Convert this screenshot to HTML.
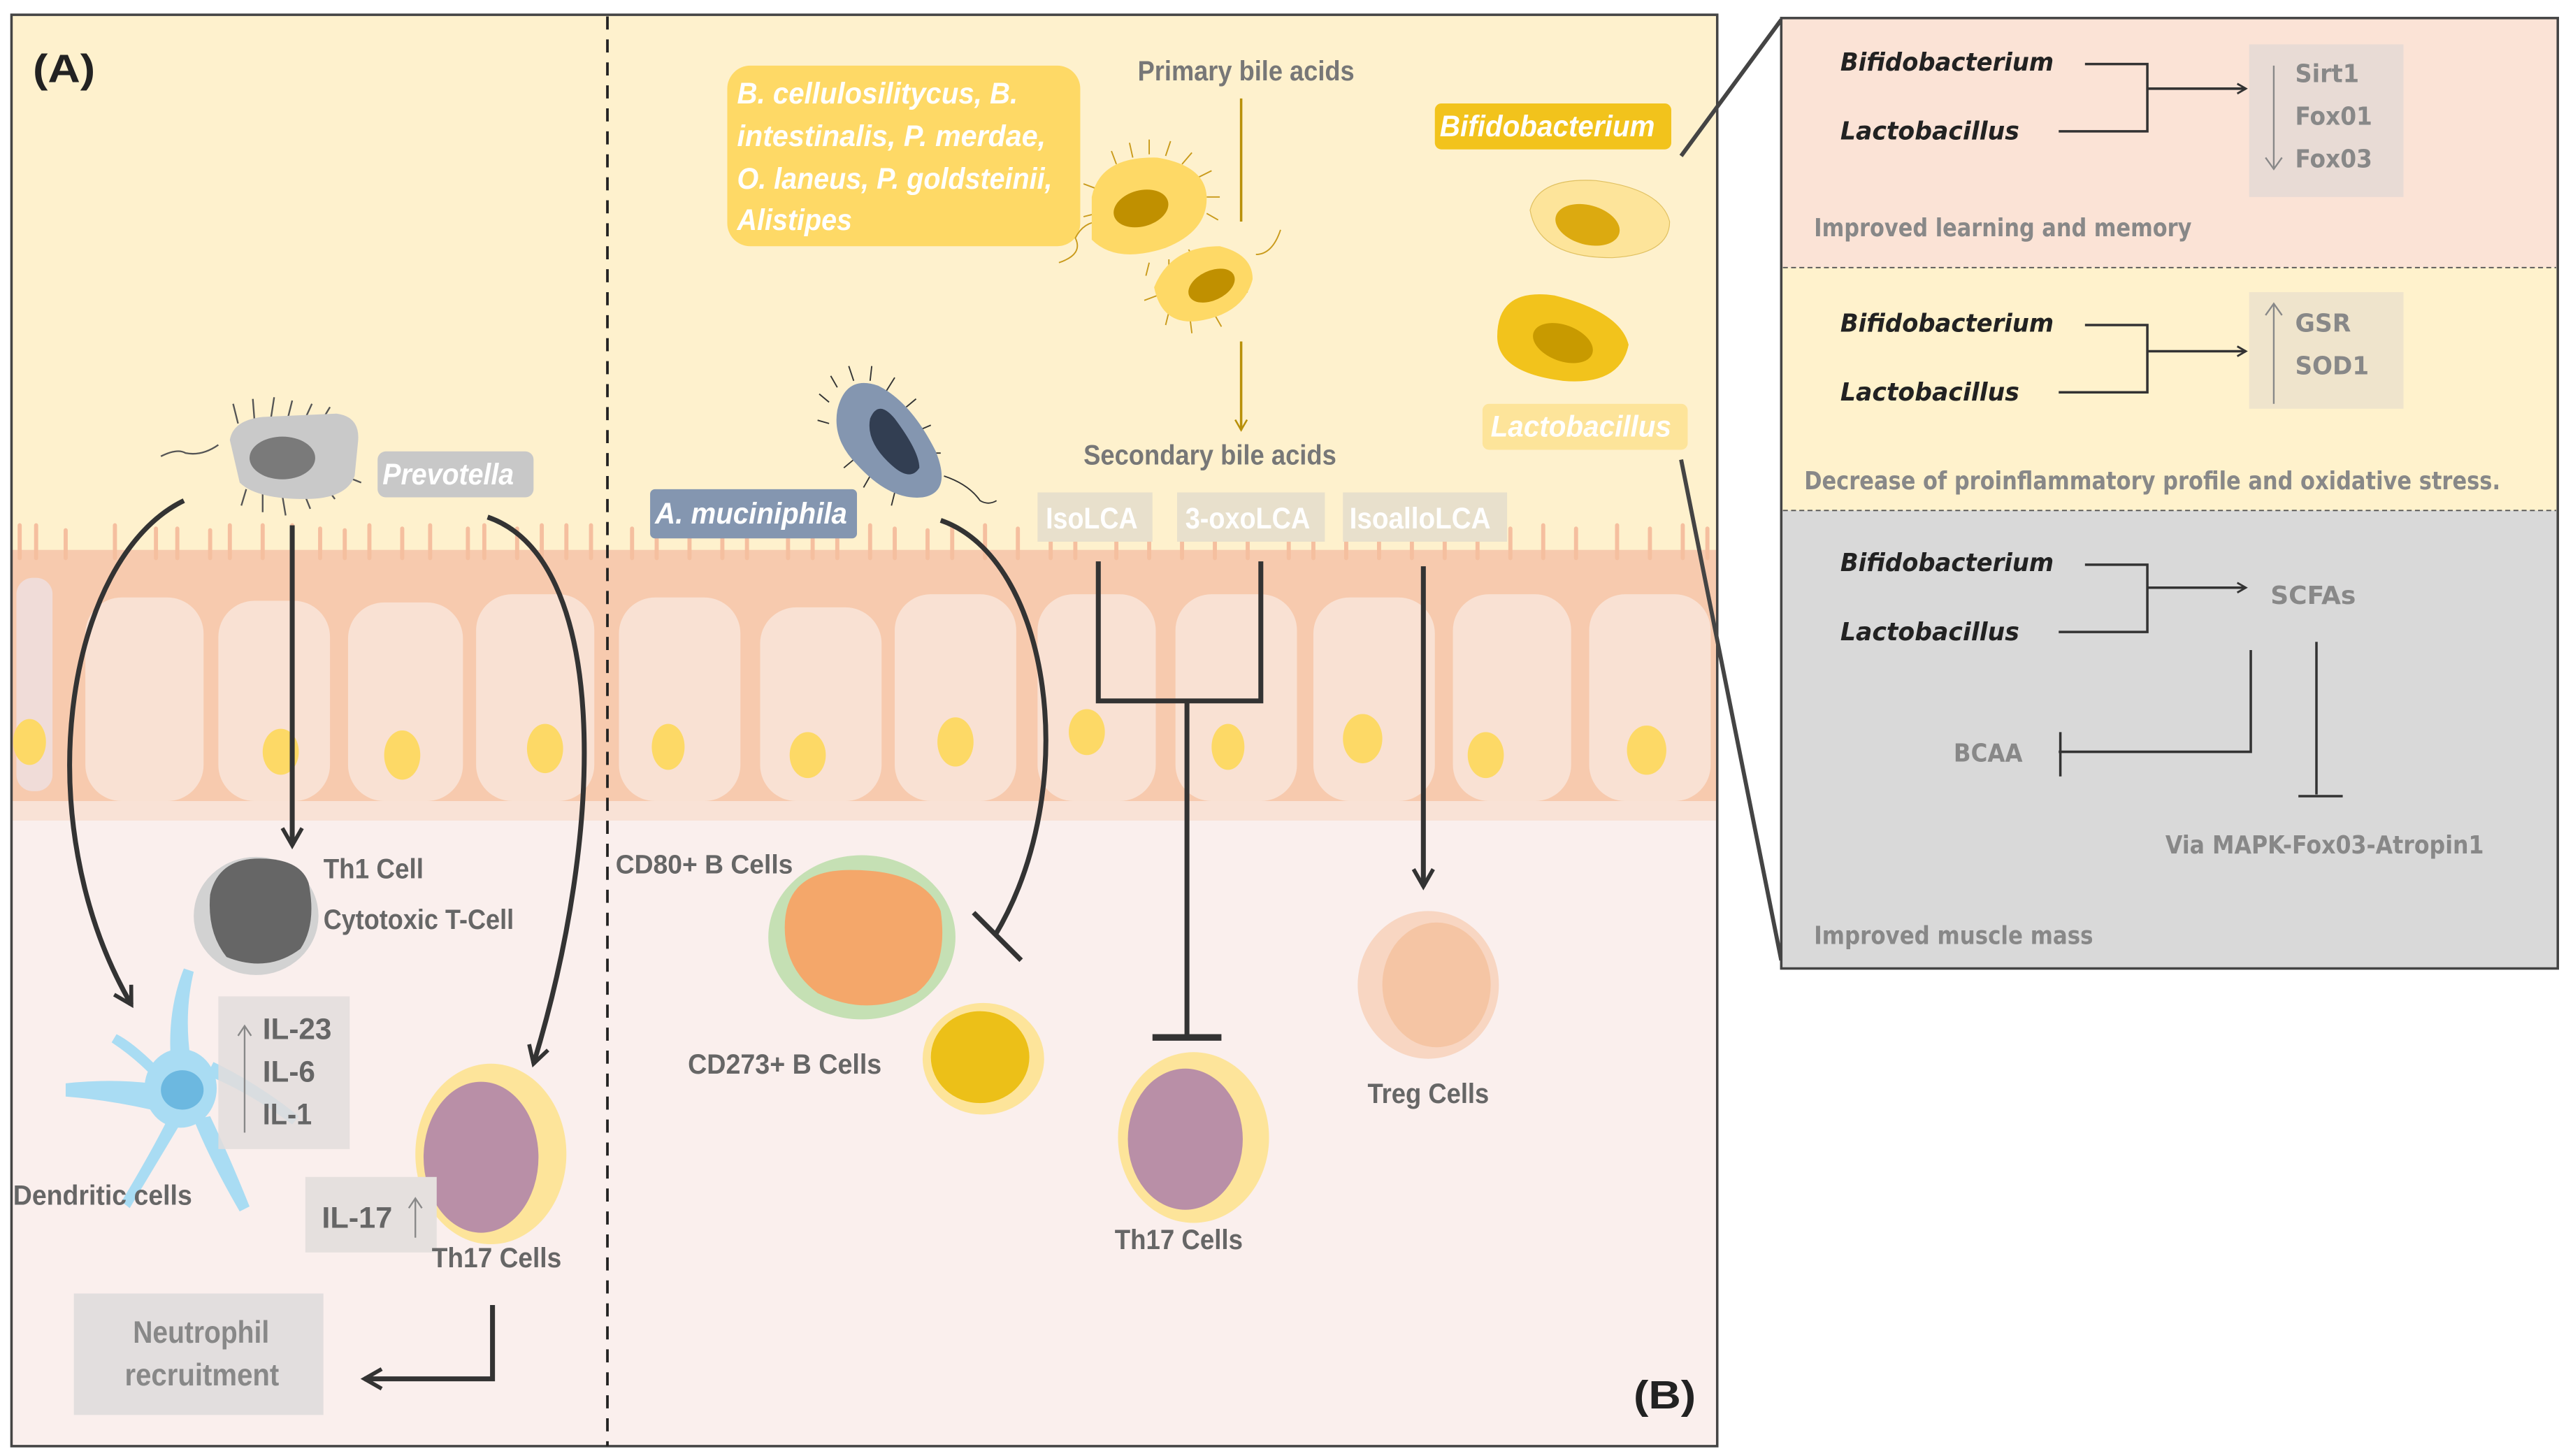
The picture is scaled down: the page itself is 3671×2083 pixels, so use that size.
<!DOCTYPE html>
<html><head><meta charset="utf-8"><style>
html,body{margin:0;padding:0;background:#fff}
svg{display:block}
.n{font-family:"Liberation Sans Narrow","Liberation Sans",sans-serif;font-weight:bold}
.w{font-family:"DejaVu Sans","Liberation Sans",sans-serif;font-weight:bold}
</style></head><body>
<svg width="3671" height="2083" viewBox="0 0 1563 887" preserveAspectRatio="none" xmlns="http://www.w3.org/2000/svg">
<defs>
<marker id="ah" viewBox="0 0 10 10" refX="8" refY="5" markerWidth="5" markerHeight="5" orient="auto"><path d="M1,1 L8,5 L1,9" fill="none" stroke="#333" stroke-width="1.6"/></marker>
<marker id="ag" viewBox="0 0 10 10" refX="8" refY="5" markerWidth="6" markerHeight="6" orient="auto"><path d="M1,1 L8,5 L1,9" fill="none" stroke="#b8900a" stroke-width="1.2"/></marker>
</defs>
<rect x="0" y="0" width="1563" height="887" fill="#fff"/>
<rect x="7" y="9" width="1039" height="330" fill="#fef1cd"/>
<rect x="7" y="335" width="1039" height="160" fill="#f7caae"/>
<rect x="7" y="488" width="1039" height="12" fill="#f9e2d6"/>
<rect x="7" y="500" width="1039" height="381" fill="#faefed"/>
<g stroke="#f5bf9f" stroke-width="2.5" stroke-linecap="round">
<path d="M12,340v-20M22,340v-20M40,340v-17M70,340v-20M95,340v-18M108,340v-18M128,340v-17M140,340v-20M160,340v-20M178,340v-20M195,340v-18M210,340v-17M225,340v-20M245,340v-18M262,340v-20M285,340v-18M295,340v-20M315,340v-18M330,340v-20M345,340v-20M360,340v-20M385,340v-18M400,340v-20M420,340v-17M440,340v-20M455,340v-18M480,340v-20M495,340v-18M510,340v-18M530,340v-20M545,340v-18M565,340v-17M580,340v-20M600,340v-20M620,340v-18M640,340v-18M655,340v-20M680,340v-20M700,340v-18M720,340v-20M740,340v-17M760,340v-20M785,340v-20M800,340v-18M820,340v-20M840,340v-18M860,340v-20M880,340v-17M900,340v-20M920,340v-18M940,340v-20M960,340v-18M985,340v-20M1005,340v-18M1025,340v-20M1040,340v-18"/>
</g>
<g fill="#f9e1d3">
<rect x="10" y="352" width="22" height="130" rx="10" fill="#f0dcd8"/>
<rect x="52" y="364" width="72" height="124" rx="22"/>
<rect x="133" y="366" width="68" height="122" rx="22"/>
<rect x="212" y="367" width="70" height="121" rx="22"/>
<rect x="290" y="362" width="72" height="126" rx="22"/>
<rect x="377" y="364" width="74" height="124" rx="22"/>
<rect x="463" y="370" width="74" height="118" rx="22"/>
<rect x="545" y="362" width="74" height="126" rx="22"/>
<rect x="632" y="362" width="72" height="126" rx="22"/>
<rect x="716" y="362" width="74" height="126" rx="22"/>
<rect x="800" y="364" width="74" height="124" rx="22"/>
<rect x="885" y="362" width="72" height="126" rx="22"/>
<rect x="968" y="362" width="74" height="126" rx="22"/>
</g>
<g fill="#fdd966">
<ellipse cx="18" cy="452" rx="10" ry="14"/><ellipse cx="171" cy="458" rx="11" ry="14"/><ellipse cx="245" cy="460" rx="11" ry="15"/><ellipse cx="332" cy="456" rx="11" ry="15"/>
<ellipse cx="407" cy="455" rx="10" ry="14"/><ellipse cx="492" cy="460" rx="11" ry="14"/><ellipse cx="582" cy="452" rx="11" ry="15"/><ellipse cx="662" cy="446" rx="11" ry="14"/><ellipse cx="748" cy="455" rx="10" ry="14"/><ellipse cx="830" cy="450" rx="12" ry="15"/><ellipse cx="905" cy="460" rx="11" ry="14"/><ellipse cx="1003" cy="457" rx="12" ry="15"/>
</g>
<rect x="7" y="9" width="1039" height="872" fill="none" stroke="#444" stroke-width="1.5"/>
<line x1="370" y1="10" x2="370" y2="881" stroke="#222" stroke-width="1.6" stroke-dasharray="8,6"/>
<text x="20" y="50" class="n" font-size="24" fill="#222" textLength="38" lengthAdjust="spacingAndGlyphs">(A)</text>
<text x="995" y="858" class="n" font-size="24" fill="#222" textLength="38" lengthAdjust="spacingAndGlyphs">(B)</text>

<!-- Prevotella -->
<g stroke="#555" stroke-width="1" fill="none">
<path d="M98,278 q10,-5 15,-2 q10,2 20,-5"/>
<path d="M145,258 l-3,-12M155,256 l-1,-13M165,255 l2,-13M175,256 l3,-12M185,257 l5,-11M195,258 l6,-10M205,262 l8,-7M150,298 l-3,10M160,300 l0,12M172,302 l2,12M185,300 l4,10M198,296 l6,8M210,290 l10,4"/>
</g>
<path d="M140,268 q2,-12 20,-14 l45,-2 q15,2 13,18 l-2,20 q-5,14 -30,14 q-30,0 -40,-10 z" fill="#c9c9c9"/>
<ellipse cx="172" cy="279" rx="20" ry="13" fill="#7a7a7a"/>
<rect x="230" y="275" width="95" height="28" rx="5" fill="#c8c8c8"/>
<text x="233" y="295" class="n" font-size="18" font-style="italic" fill="#fff" textLength="80" lengthAdjust="spacingAndGlyphs">Prevotella</text>

<g stroke="#333" stroke-width="3" fill="none">
<path d="M112,305 C40,340 15,500 80,612" marker-end="url(#ah)"/>
<line x1="178" y1="320" x2="178" y2="515" marker-end="url(#ah)"/>
<path d="M297,315 C370,340 370,500 325,648" marker-end="url(#ah)"/>
<path d="M300,795 v45 h-78" marker-end="url(#ah)"/>
</g>
<ellipse cx="156" cy="558" rx="38" ry="36" fill="#d2d2d2"/>
<path d="M128,545 q5,-22 30,-22 q25,0 30,15 q5,25 -5,40 q-20,15 -45,5 q-12,-15 -10,-38z" fill="#666"/>
<text x="197" y="535" class="n" font-size="17" fill="#666" textLength="61" lengthAdjust="spacingAndGlyphs">Th1 Cell</text>
<text x="197" y="566" class="n" font-size="17" fill="#666" textLength="116" lengthAdjust="spacingAndGlyphs">Cytotoxic T-Cell</text>
<!-- dendritic -->
<g fill="#a9dcf3">
<ellipse cx="110" cy="663" rx="22" ry="24"/>
<path d="M104,645 q-2,-30 8,-55 l6,2 q-6,25 -2,53z"/>
<path d="M92,660 q-25,-3 -52,0 l0,8 q25,2 52,8z"/>
<path d="M118,682 q10,25 28,56 l6,-3 q-12,-30 -24,-55z"/>
<path d="M102,682 q-10,20 -28,50 l5,4 q15,-25 30,-50z"/>
<path d="M126,655 q25,10 52,30 l4,-5 q-25,-20 -52,-33z"/>
<path d="M96,650 q-15,-15 -25,-20 l-3,5 q15,10 26,22z"/>
</g>
<ellipse cx="111" cy="664" rx="13" ry="12" fill="#6cb8e0"/>
<rect x="133" y="607" width="80" height="93" fill="#e2dddc" opacity="0.85"/>
<line x1="149" y1="690" x2="149" y2="625" stroke="#888" stroke-width="1"/><path d="M145,631 l4,-6 l4,6" fill="none" stroke="#888"/>
<text x="160" y="633" class="n" font-size="18" fill="#666" textLength="42" lengthAdjust="spacingAndGlyphs">IL-23</text>
<text x="160" y="659" class="n" font-size="18" fill="#666" textLength="32" lengthAdjust="spacingAndGlyphs">IL-6</text>
<text x="160" y="685" class="n" font-size="18" fill="#666" textLength="30" lengthAdjust="spacingAndGlyphs">IL-1</text>
<text x="8" y="734" class="n" font-size="17" fill="#666" textLength="109" lengthAdjust="spacingAndGlyphs">Dendritic cells</text>
<ellipse cx="299" cy="703" rx="46" ry="55" fill="#fde49a"/>
<ellipse cx="293" cy="705" rx="35" ry="46" fill="#b98fa7"/>
<rect x="186" y="717" width="80" height="46" fill="#e5e0de"/>
<text x="196" y="748" class="n" font-size="18" fill="#666" textLength="43" lengthAdjust="spacingAndGlyphs">IL-17</text>
<line x1="253" y1="754" x2="253" y2="730" stroke="#888"/><path d="M249,736 l4,-6 l4,6" fill="none" stroke="#888"/>
<text x="263" y="772" class="n" font-size="17" fill="#666" textLength="79" lengthAdjust="spacingAndGlyphs">Th17 Cells</text>
<rect x="45" y="788" width="152" height="74" fill="#e2dede"/>
<text x="81" y="818" class="n" font-size="19" fill="#888" textLength="83" lengthAdjust="spacingAndGlyphs">Neutrophil</text>
<text x="76" y="844" class="n" font-size="19" fill="#888" textLength="94" lengthAdjust="spacingAndGlyphs">recruitment</text>

<!-- B -->
<rect x="443" y="40" width="215" height="110" rx="14" fill="#fed966"/>
<g class="n" font-size="18" font-style="italic" fill="#fff">
<text x="449" y="63" textLength="171" lengthAdjust="spacingAndGlyphs">B. cellulosilitycus,  B.</text>
<text x="449" y="89" textLength="188" lengthAdjust="spacingAndGlyphs">intestinalis,  P. merdae,</text>
<text x="449" y="115" textLength="192" lengthAdjust="spacingAndGlyphs">O. laneus,  P. goldsteinii,</text>
<text x="449" y="140" textLength="70" lengthAdjust="spacingAndGlyphs">Alistipes</text>
</g>
<g stroke="#c99a1a" stroke-width="0.8" fill="none">
<path d="M645,160 q15,-5 10,-15 q5,-10 15,-10M765,155 q10,0 15,-15"/>
<path d="M680,100 l-3,-8M690,96 l-2,-9M700,94 l0,-9M710,95 l3,-9M720,100 l6,-7M730,108 l8,-4M735,120 l8,0M735,130 l7,4M668,115 l-8,-3M668,130 l-8,2M700,160 l-2,8M712,158 l0,8M724,152 l4,7M712,190 l-2,8M725,195 l1,8M740,192 l4,7M705,180 l-8,3M752,175 l8,3"/>
</g>
<path d="M665,120 q5,-25 40,-24 q30,5 30,25 q0,20 -25,30 q-30,10 -45,-5 z" fill="#fed966"/>
<ellipse cx="695" cy="127" rx="17" ry="11" fill="#c09000" transform="rotate(-15 695 127)"/>
<path d="M703,175 q10,-25 40,-25 q20,5 20,20 q-5,20 -30,25 q-25,5 -30,-20z" fill="#fed966"/>
<ellipse cx="738" cy="174" rx="15" ry="9" fill="#c09000" transform="rotate(-25 738 174)"/>
<text x="693" y="49" class="n" font-size="17" fill="#777" textLength="132" lengthAdjust="spacingAndGlyphs">Primary bile acids</text>
<line x1="756" y1="60" x2="756" y2="135" stroke="#b8900a" stroke-width="1.5"/>
<line x1="756" y1="208" x2="756" y2="262" stroke="#b8900a" stroke-width="1.5" marker-end="url(#ag)"/>
<text x="660" y="283" class="n" font-size="17" fill="#777" textLength="154" lengthAdjust="spacingAndGlyphs">Secondary bile acids</text>
<rect x="632" y="300" width="70" height="30" fill="#e8e0cc"/><text x="637" y="322" class="n" font-size="18" fill="#fff" textLength="56" lengthAdjust="spacingAndGlyphs">IsoLCA</text>
<rect x="717" y="300" width="90" height="30" fill="#e8e0cc"/><text x="722" y="322" class="n" font-size="18" fill="#fff" textLength="76" lengthAdjust="spacingAndGlyphs">3-oxoLCA</text>
<rect x="818" y="300" width="100" height="30" fill="#e8e0cc"/><text x="822" y="322" class="n" font-size="18" fill="#fff" textLength="86" lengthAdjust="spacingAndGlyphs">IsoalloLCA</text>
<g stroke="#333" stroke-width="3" fill="none">
<path d="M669,342 v85 h99 v-85"/>
<line x1="723" y1="427" x2="723" y2="630"/>
<line x1="702" y1="632" x2="744" y2="632" stroke-width="4"/>
<line x1="867" y1="345" x2="867" y2="540" marker-end="url(#ah)"/>
<path d="M573,317 C640,340 660,480 606,570"/>
<line x1="593" y1="556" x2="622" y2="585"/>
</g>
<g stroke="#333" stroke-width="0.8" fill="none">
<path d="M575,290 q15,5 22,15 q5,3 10,0M505,245 l-6,-5M505,258 l-7,-2M510,236 l-4,-7M520,232 l-3,-9M530,232 l1,-9M540,238 l5,-8M552,248 l6,-5M560,262 l7,-3M565,276 l8,0M520,280 l-6,5M530,290 l-4,7M545,300 l-2,8"/>
</g>
<path d="M510,250 q5,-22 25,-15 q20,10 35,40 q10,25 -8,28 q-20,2 -40,-20 q-15,-15 -12,-33z" fill="#8496b0"/>
<path d="M530,255 q5,-12 15,0 q15,20 15,30 q-5,8 -15,0 q-18,-15 -15,-30z" fill="#323e52"/>
<rect x="396" y="298" width="126" height="30" rx="3" fill="#8496b0"/>
<text x="399" y="319" class="n" font-size="18" font-style="italic" fill="#fff" textLength="117" lengthAdjust="spacingAndGlyphs">A. muciniphila</text>
<text x="375" y="532" class="n" font-size="16" fill="#666" textLength="108" lengthAdjust="spacingAndGlyphs">CD80+ B Cells</text>
<ellipse cx="525" cy="571" rx="57" ry="50" fill="#c5e0b4"/>
<path d="M478,565 q0,-35 40,-35 q45,0 55,25 q5,35 -15,50 q-30,15 -60,0 q-20,-15 -20,-40z" fill="#f4a76a"/>
<text x="419" y="654" class="n" font-size="17" fill="#666" textLength="118" lengthAdjust="spacingAndGlyphs">CD273+ B Cells</text>
<ellipse cx="599" cy="645" rx="37" ry="34" fill="#fde49a"/>
<ellipse cx="597" cy="644" rx="30" ry="28" fill="#ecc018"/>
<ellipse cx="727" cy="693" rx="46" ry="52" fill="#fde49a"/>
<ellipse cx="722" cy="694" rx="35" ry="43" fill="#b98fa7"/>
<text x="679" y="761" class="n" font-size="17" fill="#666" textLength="78" lengthAdjust="spacingAndGlyphs">Th17 Cells</text>
<ellipse cx="870" cy="600" rx="43" ry="45" fill="#f8d6c2"/>
<ellipse cx="875" cy="600" rx="33" ry="38" fill="#f5c5a4"/>
<text x="833" y="672" class="n" font-size="17" fill="#666" textLength="74" lengthAdjust="spacingAndGlyphs">Treg Cells</text>
<rect x="874" y="63" width="144" height="28" rx="4" fill="#f2c31c"/>
<text x="877" y="83" class="n" font-size="18" font-style="italic" fill="#fff" textLength="131" lengthAdjust="spacingAndGlyphs">Bifidobacterium</text>
<path d="M932,128 q5,-20 40,-18 q40,5 45,25 q0,20 -35,22 q-45,0 -50,-29z" fill="#fde49a" stroke="#e0c060" stroke-width="0.5"/>
<ellipse cx="967" cy="137" rx="20" ry="12" fill="#dcaa10" transform="rotate(15 967 137)"/>
<path d="M912,205 q0,-30 35,-25 q40,10 45,30 q-5,25 -40,22 q-40,-5 -40,-27z" fill="#f2c31c"/>
<ellipse cx="952" cy="209" rx="19" ry="11" fill="#c89a00" transform="rotate(20 952 209)"/>
<rect x="903" y="246" width="125" height="28" rx="4" fill="#fde49a"/>
<text x="908" y="266" class="n" font-size="18" font-style="italic" fill="#fff" textLength="110" lengthAdjust="spacingAndGlyphs">Lactobacillus</text>
<g stroke="#444" stroke-width="2.5"><line x1="1024" y1="95" x2="1085" y2="12"/><line x1="1024" y1="280" x2="1085" y2="585"/></g>

<!-- right panel -->
<rect x="1085" y="11" width="473" height="152" fill="#fbe3d6"/>
<rect x="1085" y="163" width="473" height="148" fill="#fff2cc"/>
<rect x="1085" y="311" width="473" height="279" fill="#d9d9d9"/>
<line x1="1086" y1="163" x2="1557" y2="163" stroke="#555" stroke-dasharray="3,2" stroke-width="0.8"/>
<line x1="1086" y1="311" x2="1557" y2="311" stroke="#555" stroke-dasharray="3,2" stroke-width="0.8"/>
<rect x="1085" y="11" width="473" height="579" fill="none" stroke="#444" stroke-width="1.5"/>
<g class="w" font-size="15" font-style="italic" fill="#222">
<text x="1121" y="43" textLength="130" lengthAdjust="spacingAndGlyphs">Bifidobacterium</text><text x="1121" y="85" textLength="109" lengthAdjust="spacingAndGlyphs">Lactobacillus</text>
<text x="1121" y="202" textLength="130" lengthAdjust="spacingAndGlyphs">Bifidobacterium</text><text x="1121" y="244" textLength="109" lengthAdjust="spacingAndGlyphs">Lactobacillus</text>
<text x="1121" y="348" textLength="130" lengthAdjust="spacingAndGlyphs">Bifidobacterium</text><text x="1121" y="390" textLength="109" lengthAdjust="spacingAndGlyphs">Lactobacillus</text>
</g>
<g stroke="#333" stroke-width="1.5" fill="none">
<path d="M1270,39 h38 v41 h-54"/><line x1="1308" y1="54" x2="1368" y2="54" marker-end="url(#ah)"/>
<path d="M1270,198 h38 v41 h-54"/><line x1="1308" y1="214" x2="1368" y2="214" marker-end="url(#ah)"/>
<path d="M1270,344 h38 v41 h-54"/><line x1="1308" y1="358" x2="1368" y2="358" marker-end="url(#ah)"/>
<path d="M1371,396 v62 h-117"/><line x1="1255" y1="446" x2="1255" y2="473"/>
<line x1="1411" y1="391" x2="1411" y2="484"/><line x1="1400" y1="485" x2="1427" y2="485"/>
</g>
<rect x="1370" y="27" width="94" height="93" fill="#e8dbd5"/>
<line x1="1385" y1="40" x2="1385" y2="102" stroke="#888"/><path d="M1380,96 l5,7 l5,-7" fill="none" stroke="#888"/>
<g class="w" font-size="15" fill="#888"><text x="1398" y="50" textLength="39" lengthAdjust="spacingAndGlyphs">Sirt1</text><text x="1398" y="76" textLength="47" lengthAdjust="spacingAndGlyphs">Fox01</text><text x="1398" y="102" textLength="47" lengthAdjust="spacingAndGlyphs">Fox03</text></g>
<rect x="1370" y="178" width="94" height="71" fill="#efe4cc"/>
<line x1="1385" y1="185" x2="1385" y2="246" stroke="#888"/><path d="M1380,192 l5,-7 l5,7" fill="none" stroke="#888"/>
<g class="w" font-size="15" fill="#888"><text x="1398" y="202" textLength="34" lengthAdjust="spacingAndGlyphs">GSR</text><text x="1398" y="228" textLength="45" lengthAdjust="spacingAndGlyphs">SOD1</text></g>
<g class="w" font-size="15" fill="#888">
<text x="1383" y="368" textLength="52" lengthAdjust="spacingAndGlyphs">SCFAs</text>
<text x="1190" y="464" textLength="42" lengthAdjust="spacingAndGlyphs">BCAA</text>
<text x="1319" y="520" textLength="194" lengthAdjust="spacingAndGlyphs">Via MAPK-Fox03-Atropin1</text>
<text x="1105" y="144" textLength="230" lengthAdjust="spacingAndGlyphs">Improved learning and memory</text>
<text x="1099" y="298" textLength="424" lengthAdjust="spacingAndGlyphs">Decrease of proinflammatory profile and oxidative stress.</text>
<text x="1105" y="575" textLength="170" lengthAdjust="spacingAndGlyphs">Improved muscle mass</text>
</g>
</svg>
</body></html>
